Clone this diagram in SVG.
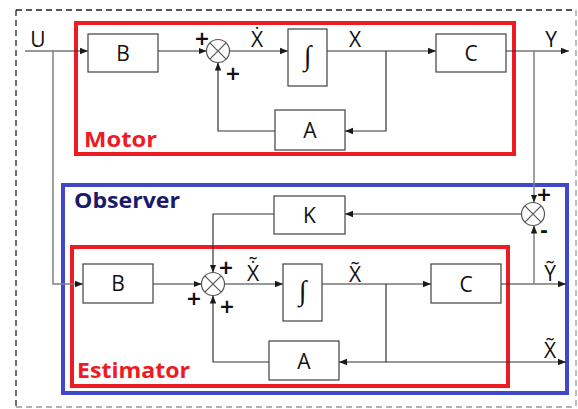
<svg xmlns="http://www.w3.org/2000/svg" width="578" height="409" viewBox="0 0 578 409">
<defs>
<marker id="ah" markerUnits="userSpaceOnUse" markerWidth="8" markerHeight="8" viewBox="0 0 8 8" refX="8" refY="4" orient="auto">
<path d="M0,0.8 L8,4 L0,7.2 Z" fill="#1a1a1a"/>
</marker>
</defs>
<style>
.blk{fill:#fff;stroke:#404040;stroke-width:1.2}
.sum{fill:#fff;stroke:#555;stroke-width:1.2}
.ln{fill:none;stroke:#333;stroke-width:1.2}
.lg{fill:none;stroke:#808080;stroke-width:1.5}
.lbl{font-family:"Open Sans","Noto Sans",sans-serif;font-size:21px;fill:#111;text-anchor:middle}
.pm{font-family:"DejaVu Sans",sans-serif;font-size:19px;font-weight:bold;fill:#111;text-anchor:middle}
.int{font-family:"Liberation Serif",serif;font-size:28px;fill:#111;text-anchor:middle;font-style:italic}
.ttl{font-family:"Open Sans","Noto Sans",sans-serif;font-size:21px;font-weight:bold}
</style>
<rect width="578" height="409" fill="#fff"/>
<g id="frame">
<line x1="16" y1="10" x2="576" y2="10" stroke="#222" stroke-width="1.3" stroke-dasharray="6,4"/>
<line x1="16" y1="10" x2="16" y2="407" stroke="#222" stroke-width="1.3" stroke-dasharray="6,4"/>
<line x1="576" y1="10" x2="576" y2="407" stroke="#9a9a9a" stroke-width="1.3" stroke-dasharray="6,4"/>
<line x1="16" y1="407" x2="576" y2="407" stroke="#9a9a9a" stroke-width="1.3" stroke-dasharray="6,4"/>
</g>
<g id="observer">
<rect x="63" y="185" width="504" height="208" fill="none" stroke="#3f48cc" stroke-width="4"/>
<text x="74" y="208" class="ttl" fill="#1b1a6a" textLength="106" lengthAdjust="spacingAndGlyphs">Observer</text>
</g>
<g id="motor">
<rect x="76" y="23" width="438" height="131" fill="none" stroke="#ed1c24" stroke-width="4"/>
<text x="84" y="147" class="ttl" fill="#ed1c24" textLength="73" lengthAdjust="spacingAndGlyphs">Motor</text>
</g>
<g id="estimator">
<rect x="72" y="247" width="436" height="139" fill="none" stroke="#ed1c24" stroke-width="4"/>
<text x="77" y="378" class="ttl" fill="#ed1c24" textLength="113" lengthAdjust="spacingAndGlyphs">Estimator</text>
</g>
<g id="connectors">
<line class="ln" x1="25" y1="51" x2="88" y2="51" marker-end="url(#ah)"/>
<line class="ln" x1="158" y1="51" x2="206.5" y2="51" marker-end="url(#ah)"/>
<line class="ln" x1="229.5" y1="51" x2="288" y2="51" marker-end="url(#ah)"/>
<line class="ln" x1="327" y1="51" x2="436" y2="51" marker-end="url(#ah)"/>
<polyline class="ln" points="386,51 386,131 345,131" marker-end="url(#ah)"/>
<polyline class="ln" points="275,131 218,131 218,62.5" marker-end="url(#ah)"/>
<line class="ln" x1="506" y1="51" x2="569" y2="51" marker-end="url(#ah)"/>
<line class="lg" x1="534" y1="51" x2="534" y2="202.5" marker-end="url(#ah)"/>
<polyline class="lg" points="53,51 53,284 83,284" marker-end="url(#ah)"/>
<line class="ln" x1="521.5" y1="214" x2="345" y2="214" marker-end="url(#ah)"/>
<polyline class="ln" points="274,214 213,214 213,272.5" marker-end="url(#ah)"/>
<line class="ln" x1="153" y1="284" x2="201.5" y2="284" marker-end="url(#ah)"/>
<line class="ln" x1="224.5" y1="284" x2="283" y2="284" marker-end="url(#ah)"/>
<line class="ln" x1="322" y1="284" x2="431" y2="284" marker-end="url(#ah)"/>
<line class="ln" x1="501" y1="284" x2="566" y2="284" marker-end="url(#ah)"/>
<line class="lg" x1="534" y1="284" x2="534" y2="225.5" marker-end="url(#ah)"/>
<polyline class="ln" points="386,284 386,362 339,362" marker-end="url(#ah)"/>
<line class="ln" x1="386" y1="362" x2="566" y2="362" marker-end="url(#ah)"/>
<polyline class="ln" points="269,362 213,362 213,295.5" marker-end="url(#ah)"/>
</g>
<g id="B1"><rect class="blk" x="88" y="34" width="70" height="38"/><text class="lbl" x="123" y="61">B</text></g>
<g id="sum1"><circle class="sum" cx="218" cy="51" r="11.5"/><path class="sum" d="M209.9,42.9 L226.1,59.1 M226.1,42.9 L209.9,59.1"/></g>
<g id="int1"><rect class="blk" x="288" y="29" width="39" height="57"/><text class="int" x="307.5" y="65">∫</text></g>
<g id="C1"><rect class="blk" x="436" y="34" width="70" height="38"/><text class="lbl" x="471" y="61">C</text></g>
<g id="A1"><rect class="blk" x="275" y="110" width="70" height="40"/><text class="lbl" x="310" y="138">A</text></g>
<g id="sum2"><circle class="sum" cx="533" cy="214" r="11.5"/><path class="sum" d="M524.9,205.9 L541.1,222.1 M541.1,205.9 L524.9,222.1"/></g>
<g id="K"><rect class="blk" x="274" y="196" width="71" height="38"/><text class="lbl" x="309.5" y="223">K</text></g>
<g id="B2"><rect class="blk" x="83" y="264" width="70" height="39"/><text class="lbl" x="118" y="291">B</text></g>
<g id="sum3"><circle class="sum" cx="213" cy="284" r="11.5"/><path class="sum" d="M204.9,275.9 L221.1,292.1 M221.1,275.9 L204.9,292.1"/></g>
<g id="int2"><rect class="blk" x="283" y="264" width="39" height="57"/><text class="int" x="302.5" y="300">∫</text></g>
<g id="C2"><rect class="blk" x="431" y="264" width="70" height="39"/><text class="lbl" x="466" y="292">C</text></g>
<g id="A2"><rect class="blk" x="269" y="341" width="70" height="39"/><text class="lbl" x="304" y="369">A</text></g>
<g id="labels">
<text class="lbl" x="38" y="47">U</text>
<text class="lbl" x="257" y="47">Ẋ</text>
<text class="lbl" x="355" y="47">X</text>
<text class="lbl" x="551" y="47">Y</text>
<text class="pm" x="202" y="45">+</text>
<text class="pm" x="233" y="80">+</text>
<text class="pm" x="544" y="201">+</text>
<text class="pm" x="544" y="237">-</text>
<text class="pm" x="226" y="274">+</text>
<text class="pm" x="194" y="305">+</text>
<text class="pm" x="227" y="313">+</text>
<text class="lbl" x="253" y="281">Ẋ̃</text>
<text class="lbl" x="355" y="282">X̃</text>
<text class="lbl" x="550" y="281">Ỹ</text>
<text class="lbl" x="550" y="358">X̃</text>
</g>
</svg>
